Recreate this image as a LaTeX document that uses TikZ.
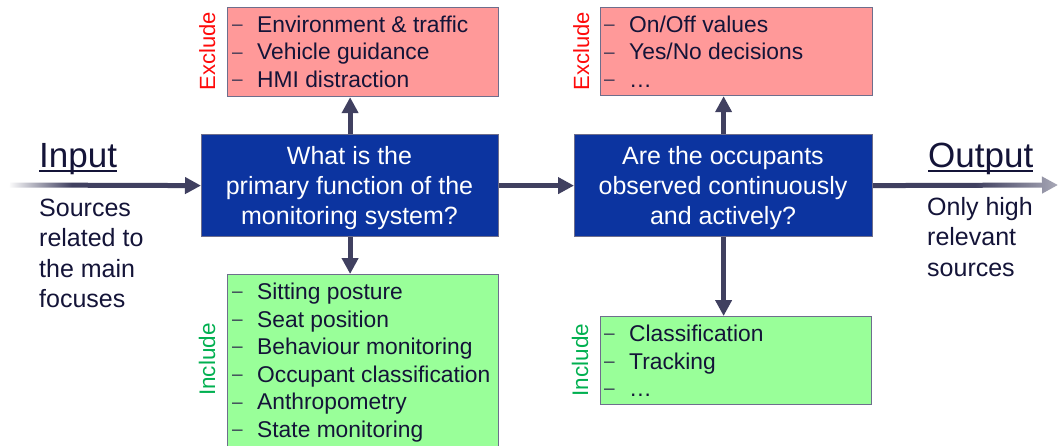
\documentclass[tikz,border=0pt]{standalone}
\usepackage{fontspec}
\setmainfont{Liberation Sans}
\usetikzlibrary{arrows.meta,fadings}
\definecolor{bluef}{RGB}{12,52,160}
\definecolor{bordc}{RGB}{110,110,140}
\definecolor{redf}{RGB}{255,153,153}
\definecolor{greenf}{RGB}{153,255,153}
\definecolor{arrc}{RGB}{64,64,96}
\definecolor{textc}{RGB}{20,20,56}
\definecolor{dashc}{RGB}{50,50,80}
\definecolor{exclc}{RGB}{255,10,10}
\definecolor{inclc}{RGB}{0,176,80}
\tikzfading[name=whiteleft, left color=transparent!0, right color=transparent!100]
\tikzfading[name=whiteright, left color=transparent!100, right color=transparent!45]
\newcommand\myul[1]{\setbox0\hbox{#1}\rlap{\rule[-4.8pt]{\wd0}{2pt}}\box0}
\newcommand\itm[1]{\strut\hbox to 25pt{\raisebox{1.8pt}{\color{dashc}\fontsize{19}{19}\selectfont –}\hfil}#1}
\tikzset{
  qbox/.style={draw=bordc, line width=1.2pt, fill=bluef, inner sep=0pt, anchor=north west},
  exbox/.style={draw=bordc, line width=1.2pt, fill=redf, inner sep=0pt, anchor=north west},
  inbox/.style={draw=bordc, line width=1.2pt, fill=greenf, inner sep=0pt, anchor=north west},
  qtext/.style={anchor=north, inner sep=0pt, text=white, align=center, font=\fontsize{25}{30}\selectfont},
  itemtext/.style={anchor=north west, inner sep=0pt, text=textc, align=left, font=\fontsize{22.8}{27.6}\selectfont},
  sidetext/.style={anchor=north west, inner sep=0pt, text=textc, align=left, font=\fontsize{25}{30.5}\selectfont},
  titletext/.style={anchor=base west, inner sep=0pt, text=textc, font=\fontsize{35}{40}\selectfont},
  exlabel/.style={rotate=90, anchor=base, inner sep=0pt, text=exclc, font=\fontsize{22}{26}\selectfont},
  inlabel/.style={rotate=90, anchor=base, inner sep=0pt, text=inclc, font=\fontsize{22.5}{26}\selectfont},
  arr/.style={draw=arrc, line width=5pt, -{Triangle[length=16pt,width=16pt]}},
}
\begin{document}
\begin{tikzpicture}[x=1pt,y=-1pt]
\useasboundingbox[fill=white] (0,0) rectangle (1058,445);

% boxes
\node[qbox, minimum width=297pt, minimum height=102pt] (b1) at (201,134) {};
\node[qbox, minimum width=298pt, minimum height=102pt] (b2) at (574,134) {};
\node[exbox, minimum width=271pt, minimum height=89pt] (ex1) at (227,7) {};
\node[exbox, minimum width=272pt, minimum height=88pt] (ex2) at (600,7) {};
\node[inbox, minimum width=271pt, minimum height=180pt] (in1) at (227,274) {};
\node[inbox, minimum width=271pt, minimum height=88pt] (in2) at (600,316) {};

% question texts
\node[qtext] (q1) at (349.5,143.3) {\strut What is the\\\strut primary function of the\\\strut monitoring system?};
\node[qtext] (q2) at (723,143.3) {\strut Are the occupants\\\strut observed continuously\\\strut and actively?};

% item texts
\node[itemtext] (ex1t) at (232,12.7) {\itm{Environment \& traffic}\\\itm{Vehicle guidance}\\\itm{HMI distraction}};
\node[itemtext] (ex2t) at (604,12.7) {\itm{On/Off values}\\\itm{Yes/No decisions}\\\itm{…}};
\node[itemtext] (in1t) at (232,280) {\itm{Sitting posture}\\\itm{Seat position}\\\itm{Behaviour monitoring}\\\itm{Occupant classification}\\\itm{Anthropometry}\\\itm{State monitoring}};
\node[itemtext] (in2t) at (604,322) {\itm{Classification}\\\itm{Tracking}\\\itm{…}};

% side labels
\node[exlabel] (exl1) at (215,51) {Exclude};
\node[exlabel] (exl2) at (589,51) {Exclude};
\node[inlabel] (inl1) at (215,359.5) {Include};
\node[inlabel] (inl2) at (588,360) {Include};

% input / output
\node[titletext] (inT) at (39,167) {\myul{Input}};
\node[titletext] (outT) at (928,167) {\myul{Output}};
\node[sidetext] (inS) at (39,194.6) {\strut Sources\\\strut related to\\\strut the main\\\strut focuses};
\node[sidetext] (outS) at (927,193.6) {\strut Only high\\\strut relevant\\\strut sources};

% connectors
\coordinate (inA) at (10,185);
\coordinate (outA) at (1058,185);
\draw[arr] (inA) -- (b1.west);
\draw[arr] (b1.east) -- (b2.west);
\draw[arr] (b2.east) -- (outA);
\draw[arr] (b1.north) -- (b1.north |- ex1.south);
\draw[arr] (b1.south) -- (b1.south |- in1.north);
\draw[arr] (b2.north) -- (b2.north |- ex2.south);
\draw[arr] (b2.south) -- (b2.south |- in2.north);

% fades at the open ends
\fill[white, path fading=whiteleft] (8,176) rectangle (72,194);
\fill[white, path fading=whiteright] (975,175) rectangle (1058,195);
\end{tikzpicture}
\end{document}
